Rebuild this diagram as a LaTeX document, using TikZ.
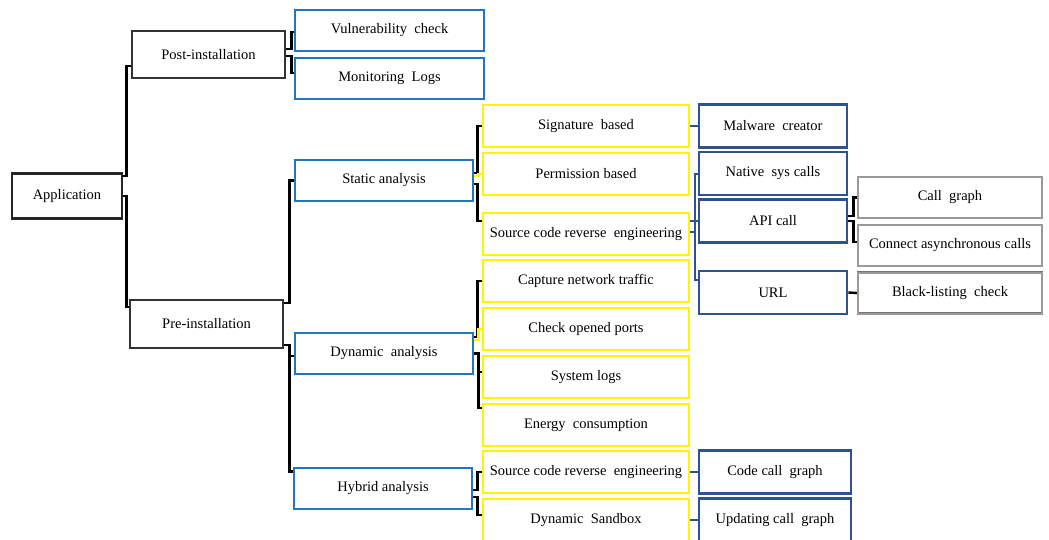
\documentclass[tikz,border=0pt]{standalone}
\usepackage{fontspec}
\setmainfont{Liberation Serif}
\definecolor{boxblue}{RGB}{38,117,190}
\definecolor{boxnavy}{RGB}{47,82,146}
\definecolor{boxyellow}{RGB}{255,245,0}
\definecolor{boxrim}{RGB}{120,120,90}
\tikzset{box/.style={draw,line width=2.6pt,inner sep=0pt,font=\fontsize{14.5}{17}\selectfont}}

\begin{document}
\begin{tikzpicture}[x=1pt,y=-1pt,
            root/.style={box,draw=black!85,minimum width=110pt,minimum height=45pt},
            stage/.style={box,draw=black!80,minimum width=153pt,minimum height=47pt},
            kind/.style={box,draw=boxblue,minimum width=178pt,minimum height=41pt},
            check/.style={box,draw=boxblue,minimum width=189pt,minimum height=41pt},
            way/.style={box,draw=boxyellow,line width=2.4pt,preaction={draw=boxrim,line width=2.9pt},minimum width=206pt,minimum height=42pt},
            item/.style={box,draw=boxnavy,minimum width=148pt,minimum height=43pt},
            leaf/.style={box,draw=black!40,line width=2pt,preaction={draw=black!55,line width=2.8pt},minimum width=184pt,minimum height=41pt},
            link/.style={draw=black,line width=2.4pt},
            ylink/.style={draw=boxyellow,line width=2.4pt},
            blink/.style={draw=boxnavy,line width=2pt}
            ]
            \useasboundingbox (0,0) rectangle (1049,539);

            \node[root] (app) at (67,196) {Application};
            \node[stage] (post) at (208.5,54.5) {Post-installation};
            \node[stage,minimum height=48pt] (pre) at (206.5,324) {Pre-installation};

            \node[check] (vuln) at (389.5,30.5) {Vulnerability\ \ check};
            \node[check] (logs) at (389.5,78.5) {Monitoring\ \ Logs};
            \node[kind] (stat) at (384,180.5) {Static analysis};
            \node[kind] (dyn) at (384,353.5) {Dynamic\ \ analysis};
            \node[kind] (hyb) at (383,488.5) {Hybrid analysis};

            \node[way] (sig) at (586,126) {Signature\ \ based};
            \node[way] (perm) at (586,174) {Permission based};
            \node[way] (src) at (586,234) {Source code reverse\ \ engineering};
            \node[way] (cap) at (586,281) {Capture network traffic};
            \node[way] (port) at (586,329) {Check opened ports};
            \node[way] (sys) at (586,377) {System logs};
            \node[way] (nrg) at (586,425) {Energy\ \ consumption};
            \node[way] (hsrc) at (586,472) {Source code reverse\ \ engineering};
            \node[way] (sand) at (586,520) {Dynamic\ \ Sandbox};

            \node[item] (malw) at (773,126) {Malware\ \ creator};
            \node[item] (nat) at (773,173.5) {Native\ \ sys calls};
            \node[item] (api) at (773,221) {API call};
            \node[item] (url) at (773,292.5) {URL};
            \node[item,minimum width=152pt] (ccg) at (775,472) {Code call\ \ graph};
            \node[item,minimum width=152pt] (ucg) at (775,520) {Updating call\ \ graph};

            \node[leaf] (cg) at (950,197.5) {Call\ \ graph};
            \node[leaf] (acall) at (950,245.5) {Connect asynchronous calls};
            \node[leaf] (blist) at (950,293) {Black-listing\ \ check};

            \draw[link] ([yshift=20pt]app.east) -- ++(3,0) |- ([yshift=-11.5pt]post.west);
            \draw[link] (app.east) -- ++(3,0) |- ([yshift=17pt]pre.west);
            \draw[link] ([yshift=5.5pt]post.east) -- ++(5,0) |- ([yshift=-1.5pt]vuln.west);
            \draw[link] ([yshift=-1.5pt]post.east) -- ++(5,0) |- ([yshift=5.5pt]logs.west);
            \draw[link] ([yshift=21pt]pre.east) -- ++(5,0) |- (stat.west);
            \draw[link] ([yshift=-21pt]pre.east) -- ++(5,0) |- ([yshift=-2.5pt]dyn.west);
            \draw[link] ([yshift=-21pt]pre.east) -- ++(5,0) |- ([yshift=17pt]hyb.west);

            \draw[link] ([yshift=7.5pt]stat.east) -- ++(3,0) |- (sig.west);
            \draw[ylink] ([yshift=4.5pt]stat.east) -- ++(4,0) |- (perm.west);
            \draw[link] ([yshift=-3.5pt]stat.east) -- ++(3,0) |- ([yshift=13pt]src.west);
            \draw[link] ([yshift=16.5pt]dyn.east) -- ++(3,0) |- (cap.west);
            \draw[ylink] ([yshift=13.5pt]dyn.east) -- ++(4,0) |- (port.west);
            \draw[link] (dyn.east) -- ++(4,0) |- ([yshift=5pt]sys.west);
            \draw[link] (dyn.east) -- ++(4,0) |- ([yshift=17pt]nrg.west);
            \draw[link] ([yshift=-1.5pt]hyb.east) -- ++(4,0) |- (hsrc.west);
            \draw[link] ([yshift=-8.5pt]hyb.east) -- ++(4,0) |- ([yshift=5pt]sand.west);

            \draw[blink] (sig.east) -- (malw.west);
            \draw[blink] ([yshift=13pt]src.east) -- ++(5,0) |- (nat.west);
            \draw[blink] ([yshift=2pt]src.east) -- ++(5,0) |- (api.west);
            \draw[blink] ([yshift=2pt]src.east) -- ++(5,0) |- ([yshift=12.5pt]url.west);
            \draw[blink] (hsrc.east) -- (ccg.west);
            \draw[blink] (sand.east) -- (ucg.west);

            \draw[link] ([yshift=5pt]api.east) -- ++(5,0) |- (cg.west);
            \draw[link] (api.east) -- ++(5,0) |- ([yshift=3.5pt]acall.west);
            \draw[link] (url.east) -- (blist.west);
\end{tikzpicture}
\end{document}
